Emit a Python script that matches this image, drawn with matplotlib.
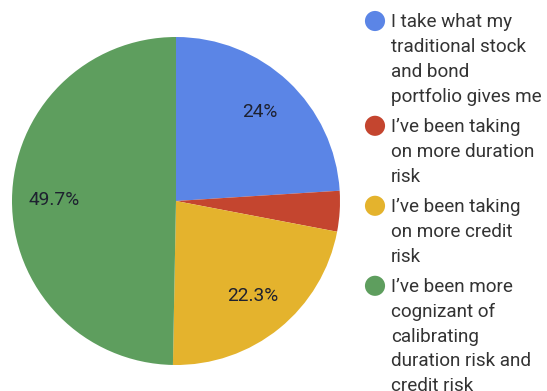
import matplotlib
matplotlib.use('Agg')
import matplotlib.pyplot as plt

plt.rcParams['font.family'] = ['Roboto', 'DejaVu Sans']

# Survey answers and their shares (percent)
answers = [
    "I take what my\ntraditional stock\nand bond\nportfolio gives me",
    "I\u2019ve been taking\non more duration\nrisk",
    "I\u2019ve been taking\non more credit\nrisk",
    "I\u2019ve been more\ncognizant of\ncalibrating\nduration risk and\ncredit risk",
]
shares = [24.0, 4.0, 22.3, 49.7]
colors = ['#5b85e6', '#c4452f', '#e4b32d', '#5e9e5e']


def pct_label(p):
    # small slices stay unlabelled
    if p < 5:
        return ''
    return ('%.1f' % p).rstrip('0').rstrip('.') + '%'


W, H = 547, 391
fig = plt.figure(figsize=(W / 100, H / 100), dpi=100)
ax = fig.add_axes([0, 0, 1, 1])

wedges, texts, autotexts = ax.pie(
    shares, colors=colors, startangle=90, counterclock=False,
    center=(176, H - 201), radius=164, autopct=pct_label,
    pctdistance=0.745, textprops={'fontsize': 13.8, 'color': '#1e2130'},
    frame=True)
ax.set_xlim(0, W)
ax.set_ylim(0, H)
ax.set_aspect('equal')
ax.axis('off')

# Legend drawn by hand: a dot, then one text per wrapped line
line_h = 24.8
block_gap = 5.6
y = 21
for label, col in zip(answers, colors):
    ax.scatter([375], [H - y], s=210, color=col, edgecolors='none')
    for line in label.split('\n'):
        ax.text(391, H - y - 6.2, line, fontsize=13.6, color='#333333',
                va='baseline', ha='left')
        y += line_h
    y += block_gap

fig.savefig('out.png', dpi=100)
